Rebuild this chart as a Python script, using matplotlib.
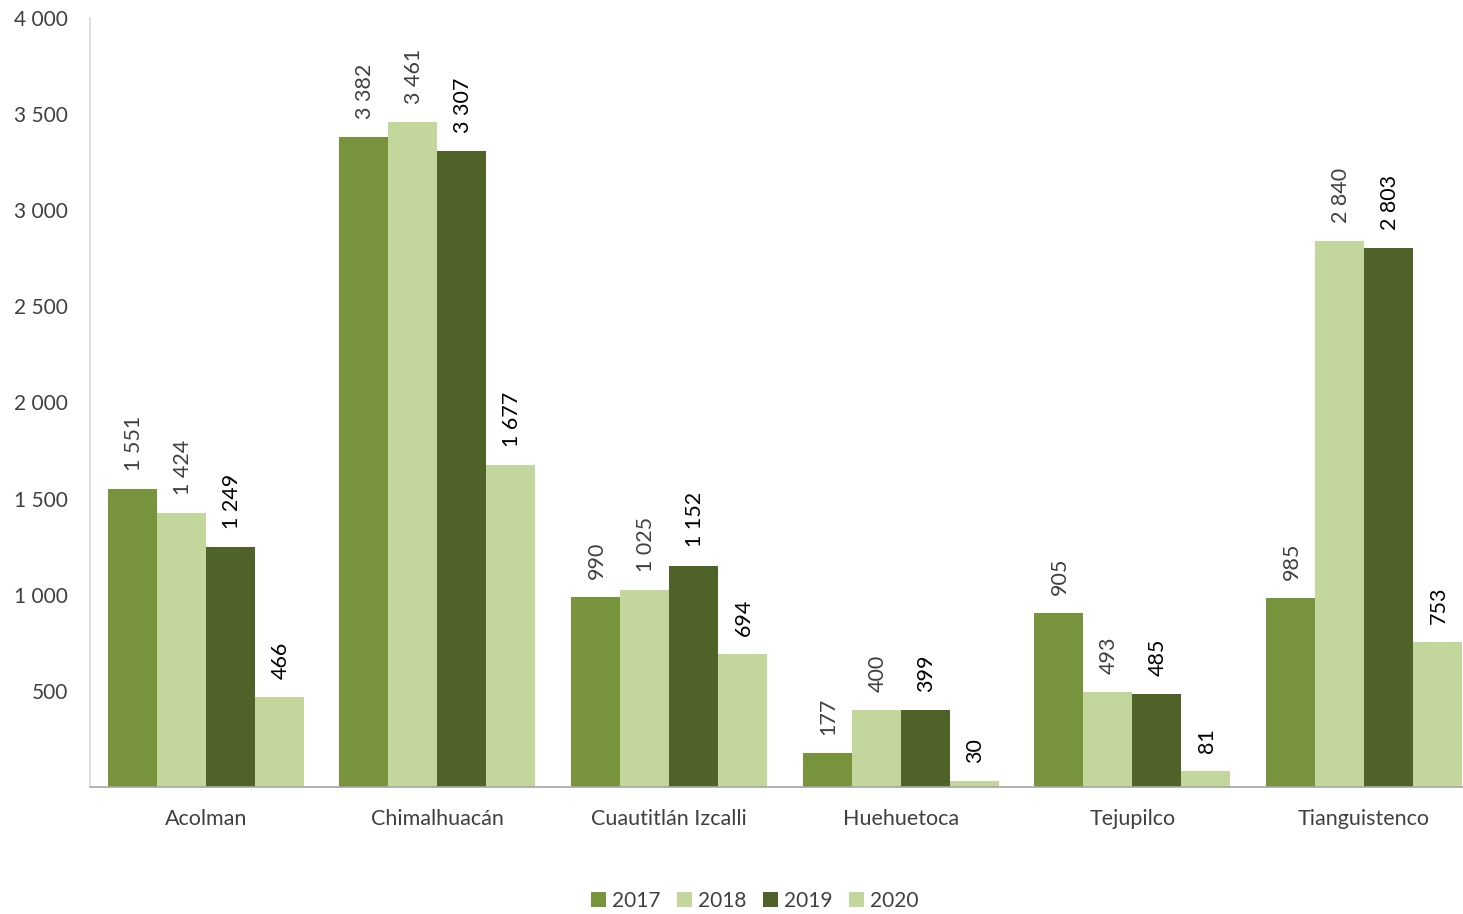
import matplotlib
matplotlib.use("Agg")
import matplotlib.pyplot as plt
import numpy as np

plt.rcParams['font.family'] = ['Lato', 'DejaVu Sans']

categories = ["Acolman", "Chimalhuacán", "Cuautitlán Izcalli", "Huehuetoca", "Tejupilco", "Tianguistenco"]
years = ["2017", "2018", "2019", "2020"]
v2017 = [1551, 3382, 990, 177, 905, 985]
v2018 = [1424, 3461, 1025, 400, 493, 2840]
v2019 = [1249, 3307, 1152, 399, 485, 2803]
v2020 = [466, 1677, 694, 30, 81, 753]
series = [v2017, v2018, v2019, v2020]
colors = ["#77933C", "#C3D69B", "#4F6228", "#C3D69B"]
label_colors = ["#404040", "#404040", "#000000", "#000000"]
yticks = [500, 1000, 1500, 2000, 2500, 3000, 3500, 4000]

def fmt(v):
    return f"{v:,}".replace(",", " ")

W, H = 1463, 914
fig = plt.figure(figsize=(W/100, H/100), dpi=100)
ax = fig.add_axes([90/W, (H-787)/H, (W-90)/W, (787-18)/H])

x = np.arange(len(categories))
bw = 49/231.6
for i, (vals, c, lc) in enumerate(zip(series, colors, label_colors)):
    xs = x + (i - 1.5) * bw
    ax.bar(xs, vals, width=bw, color=c, label=years[i], linewidth=0)
    for xi, v in zip(xs, vals):
        ax.annotate(fmt(v), (xi, v), xytext=(1, 13), textcoords="offset points",
                    rotation=90, ha="center", va="bottom", fontsize=15.5, color=lc)

ax.set_xlim(-0.5, -0.5 + (W-90)/231.6)
ax.set_ylim(0, 4000)
ax.set_yticks(yticks)
ax.set_yticklabels([fmt(t) for t in yticks], fontsize=15, color="#404040")
ax.set_xticks(x)
ax.set_xticklabels(categories, fontsize=15.5, color="#404040")
ax.tick_params(axis="both", length=0)
ax.tick_params(axis="y", pad=16)
ax.tick_params(axis="x", pad=16)
for s in ["top", "right"]:
    ax.spines[s].set_visible(False)
ax.spines["left"].set_color("#D9D9D9")
ax.spines["bottom"].set_color("#A6A6A6")
ax.spines["left"].set_linewidth(1.2)
ax.spines["bottom"].set_linewidth(1.2)

fig.legend(loc="center", bbox_to_anchor=(755/W, 1 - 901/H), ncol=4, frameon=False,
           fontsize=15, handlelength=0.7, handleheight=0.7, handletextpad=0.3,
           columnspacing=0.8, labelcolor="#404040")

fig.savefig("out.png", dpi=100)
